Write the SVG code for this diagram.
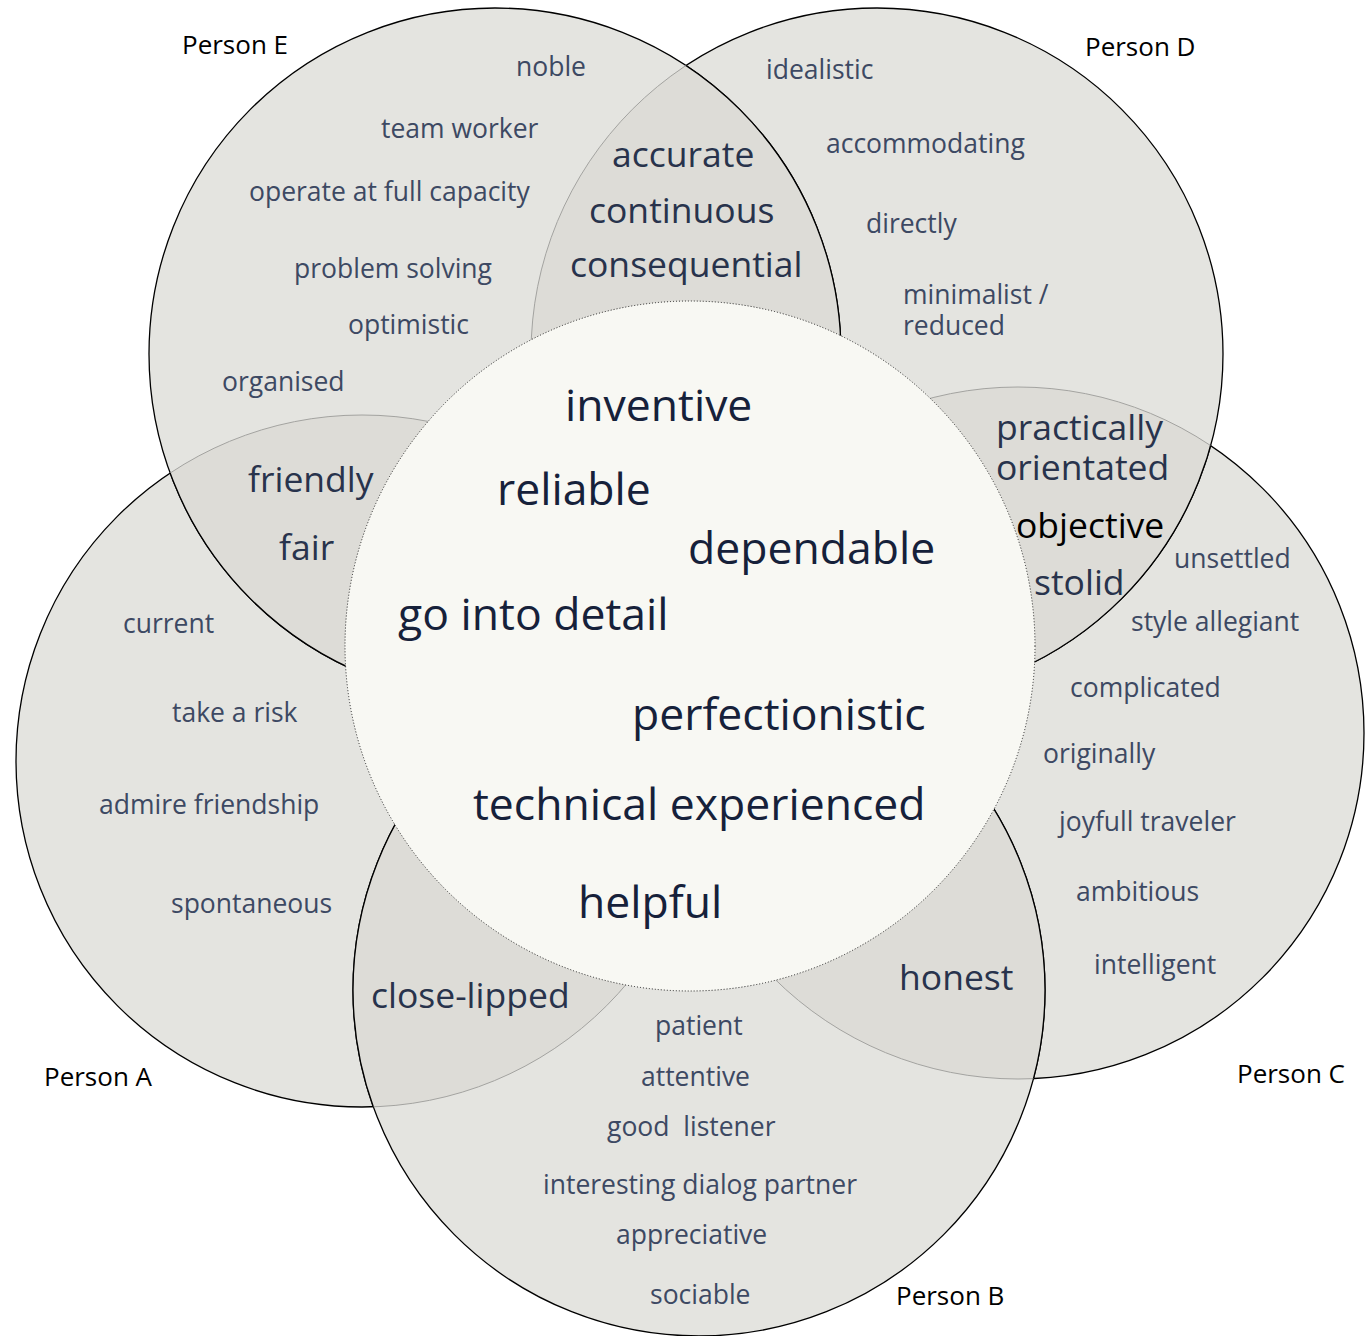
<svg xmlns="http://www.w3.org/2000/svg" width="1370" height="1336" viewBox="0 0 1370 1336">
<style>
.c{fill:#e4e4e0;stroke:#000;stroke-width:1.3}
.lf{fill:#dddcd7;stroke:none}
.ga{fill:none;stroke:#a3a3a0;stroke-width:1}
.ba{fill:none;stroke:#000;stroke-width:1.3}
text{font-family:"Open Sans","Noto Sans","Liberation Sans",sans-serif}
.o{font-size:26.5px;fill:#3d4963}
.p{font-size:26px;fill:#000}
.l{font-size:35.5px;fill:#28334c}
.m{font-size:44.5px;fill:#16213a}
</style>
<defs>
<clipPath id="kA"><circle cx="362" cy="761" r="346"/></clipPath>
<clipPath id="kB"><circle cx="699" cy="990" r="346"/></clipPath>
<clipPath id="kC"><circle cx="1018" cy="733" r="346"/></clipPath>
<clipPath id="kD"><circle cx="877" cy="354" r="346"/></clipPath>
<clipPath id="kE"><circle cx="495" cy="354" r="346"/></clipPath>
</defs>
<g id="person-C">
<circle class="c" cx="1018" cy="733" r="346"/>
<text class="o" x="1174" y="568">unsettled</text>
<text class="o" x="1131" y="631">style allegiant</text>
<text class="o" x="1070" y="697">complicated</text>
<text class="o" x="1043" y="763">originally</text>
<text class="o" x="1059" y="831">joyfull traveler</text>
<text class="o" x="1076" y="901">ambitious</text>
<text class="o" x="1094" y="974">intelligent</text>
<text class="p" x="1237" y="1083">Person C</text>
</g>
<g id="person-A">
<circle class="c" cx="362" cy="761" r="346"/>
<text class="o" x="123" y="633">current</text>
<text class="o" x="172" y="722">take a risk</text>
<text class="o" x="99" y="814">admire friendship</text>
<text class="o" x="171" y="913">spontaneous</text>
<text class="p" x="44" y="1086">Person A</text>
</g>
<g id="person-D">
<circle class="c" cx="877" cy="354" r="346"/>
<text class="o" x="766" y="79">idealistic</text>
<text class="o" x="826" y="153">accommodating</text>
<text class="o" x="866" y="233">directly</text>
<text class="o" x="903" y="304">minimalist /<tspan x="903" y="335">reduced</tspan></text>
<text class="p" x="1085" y="56">Person D</text>
</g>
<g id="person-E">
<circle class="c" cx="495" cy="354" r="346"/>
<text class="o" x="516" y="76">noble</text>
<text class="o" x="381" y="138">team worker</text>
<text class="o" x="249" y="201">operate at full capacity</text>
<text class="o" x="294" y="278">problem solving</text>
<text class="o" x="348" y="334">optimistic</text>
<text class="o" x="222" y="391">organised</text>
<text class="p" x="182" y="54">Person E</text>
</g>
<g id="person-B">
<circle class="c" cx="699" cy="990" r="346"/>
<text class="o" x="655" y="1035">patient</text>
<text class="o" x="641" y="1086">attentive</text>
<text class="o" x="607" y="1136" xml:space="preserve">good  listener</text>
<text class="o" x="543" y="1194">interesting dialog partner</text>
<text class="o" x="616" y="1244">appreciative</text>
<text class="o" x="650" y="1304">sociable</text>
<text class="p" x="896" y="1305">Person B</text>
</g>
<g id="connectors">
<g id="lens-AE">
<circle class="lf" cx="495" cy="354" r="346" clip-path="url(#kA)"/>
<circle class="ga" cx="362" cy="761" r="346" clip-path="url(#kE)"/>
<circle class="ba" cx="495" cy="354" r="346" clip-path="url(#kA)"/>
</g>
<g id="lens-ED">
<circle class="lf" cx="495" cy="354" r="346" clip-path="url(#kD)"/>
<circle class="ga" cx="877" cy="354" r="346" clip-path="url(#kE)"/>
<circle class="ba" cx="495" cy="354" r="346" clip-path="url(#kD)"/>
</g>
<g id="lens-DC">
<circle class="lf" cx="877" cy="354" r="346" clip-path="url(#kC)"/>
<circle class="ga" cx="1018" cy="733" r="346" clip-path="url(#kD)"/>
<circle class="ba" cx="877" cy="354" r="346" clip-path="url(#kC)"/>
</g>
<g id="lens-AB">
<circle class="lf" cx="699" cy="990" r="346" clip-path="url(#kA)"/>
<circle class="ga" cx="362" cy="761" r="346" clip-path="url(#kB)"/>
<circle class="ba" cx="699" cy="990" r="346" clip-path="url(#kA)"/>
</g>
<g id="lens-BC">
<circle class="lf" cx="699" cy="990" r="346" clip-path="url(#kC)"/>
<circle class="ga" cx="1018" cy="733" r="346" clip-path="url(#kB)"/>
<circle class="ba" cx="699" cy="990" r="346" clip-path="url(#kC)"/>
</g>
</g>
<g id="overlap-ED">
<text class="l" x="612" y="167">accurate</text>
<text class="l" x="589" y="223">continuous</text>
<text class="l" x="570" y="277">consequential</text>
</g>
<g id="overlap-AE">
<text class="l" x="248" y="492">friendly</text>
<text class="l" x="279" y="560">fair</text>
</g>
<g id="overlap-DC">
<text class="l" x="996" y="440">practically<tspan x="996" y="480">orientated</tspan></text>
<text class="l" x="1016" y="538" style="fill:#000">objective</text>
<text class="l" x="1034" y="595">stolid</text>
</g>
<g id="overlap-BC">
<text class="l" x="899" y="990">honest</text>
</g>
<g id="overlap-AB">
<text class="l" x="371" y="1008">close-lipped</text>
</g>
<g id="center">
<circle cx="690" cy="646" r="345" fill="#f8f8f3" stroke="#222" stroke-width="1" stroke-dasharray="1 2"/>
<text class="m" x="565" y="421">inventive</text>
<text class="m" x="497" y="505">reliable</text>
<text class="m" x="688" y="564">dependable</text>
<text class="m" x="398" y="630">go into detail</text>
<text class="m" x="632" y="730">perfectionistic</text>
<text class="m" x="473" y="820">technical experienced</text>
<text class="m" x="578" y="918">helpful</text>
</g>
</svg>
